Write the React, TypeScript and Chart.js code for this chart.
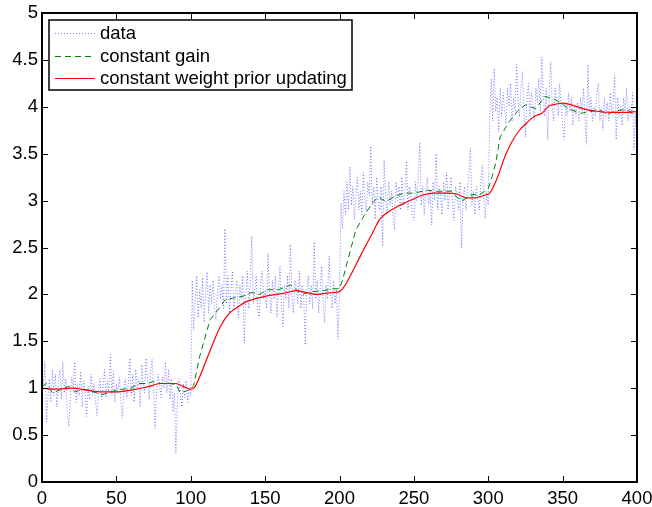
import React, { useEffect, useRef } from "react";
import { Chart, registerables } from "chart.js";

Chart.register(...registerables);

// ---------- data ----------
const seriesNames = ["data", "constant gain", "constant weight prior updating"];
const xTicks = [0, 50, 100, 150, 200, 250, 300, 350, 400];
const yTicks = [0, 0.5, 1, 1.5, 2, 2.5, 3, 3.5, 4, 4.5, 5];

// noisy observations, x = 1..100, 101..200, 201..300, 301..400
const dataSeg1 = [
  1.05, 1.28, 0.64, 0.9, 1.1, 0.85, 1.2, 0.92, 1.15, 0.8,
  1.05, 1.2, 0.88, 1.28, 0.95, 1.1, 0.75, 0.59, 0.9, 1.12,
  1.0, 1.28, 0.85, 1.05, 0.92, 1.18, 0.8, 1.08, 0.95, 0.7,
  1.02, 0.88, 1.15, 0.92, 1.05, 0.85, 0.71, 0.95, 1.1, 0.88,
  1.0, 1.2, 0.9, 1.08, 0.95, 1.36, 0.92, 1.18, 0.85, 1.05,
  0.95, 1.12, 0.88, 0.68, 0.98, 1.1, 0.9, 1.05, 1.32, 0.92,
  1.15, 0.85, 1.2, 1.0, 1.1, 0.8, 1.25, 1.05, 0.95, 1.32,
  1.1, 0.88, 1.18, 1.31, 1.0, 0.57, 0.95, 1.15, 1.05, 0.9,
  1.12, 1.0, 1.28, 0.95, 1.2, 0.88, 1.1, 0.75, 0.95, 0.3,
  0.85, 1.1, 0.95, 0.8, 1.05, 0.9, 1.08, 0.85, 1.0, 0.92,
];
const dataSeg2 = [
  2.15, 1.62, 1.95, 2.2, 1.75, 2.05, 1.85, 2.18, 1.7, 2.0,
  2.24, 1.8, 2.1, 1.9, 2.15, 1.85, 1.73, 2.05, 2.2, 1.95,
  2.1, 1.85, 2.7, 1.9, 2.2, 1.8, 2.05, 2.25, 1.85, 2.0,
  2.15, 1.75, 2.1, 1.95, 2.2, 1.48, 2.0, 2.25, 1.85, 2.1,
  2.62, 1.9, 2.05, 2.2, 1.85, 1.76, 2.1, 2.25, 1.95, 2.05,
  1.85, 2.44, 2.0, 1.8, 2.15, 1.95, 2.2, 1.76, 2.05, 2.3,
  1.9, 1.66, 2.1, 1.95, 2.2, 1.85, 2.53, 2.0, 1.8, 2.15,
  2.05, 1.9, 2.25, 1.85, 2.1, 1.95, 1.46, 2.05, 2.2, 1.9,
  2.1, 1.85, 2.56, 1.95, 2.15, 1.8, 2.05, 2.3, 1.9, 1.7,
  2.1, 1.95, 2.41, 2.0, 1.85, 2.15, 1.9, 2.05, 1.52, 2.0,
];
const dataSeg3 = [
  2.97, 2.7, 3.1, 2.85, 3.2, 2.9, 3.36, 2.95, 3.15, 2.8,
  3.05, 3.25, 2.9, 3.1, 2.85, 3.3, 3.0, 2.88, 3.2, 3.05,
  3.58, 2.95, 3.15, 2.8, 3.25, 3.0, 2.9, 3.15, 2.51, 3.43,
  3.05, 2.85, 3.2, 2.95, 3.1, 2.85, 2.69, 3.2, 3.0, 3.15,
  2.9, 3.25, 2.95, 3.1, 3.42, 2.9, 3.15, 3.05, 2.85, 2.79,
  3.2, 3.0, 3.3, 3.62, 2.95, 3.15, 2.85, 3.1, 3.25, 2.95,
  3.1, 2.74, 3.2, 3.0, 3.5, 2.9, 3.15, 3.05, 2.85, 3.2,
  3.0, 3.3, 2.9, 3.1, 3.25, 2.95, 2.79, 3.15, 3.05, 2.9,
  3.2, 2.49, 3.0, 3.15, 2.9, 3.1, 3.3, 3.56, 2.95, 3.1,
  2.85, 3.15, 3.0, 2.9, 3.2, 3.38, 3.0, 2.81, 3.1, 2.95,
];
const dataSeg4 = [
  3.9, 4.3, 3.85, 4.41, 3.95, 4.1, 3.73, 4.2, 3.9, 4.15,
  3.95, 3.82, 4.2, 4.0, 4.25, 3.85, 4.1, 3.95, 4.45, 4.05,
  3.9, 4.2, 4.38, 3.95, 3.68, 4.1, 4.25, 3.9, 4.15, 4.0,
  3.85, 4.2, 4.05, 4.3, 3.95, 4.53, 4.1, 3.9, 4.2, 3.65,
  4.15, 4.48, 4.0, 3.85, 4.2, 4.05, 3.9, 4.25, 4.0, 3.8,
  3.65, 4.05, 3.9, 4.15, 3.95, 4.1, 3.8, 4.0, 3.9, 4.05,
  3.85, 4.1, 3.95, 4.2, 3.9, 3.6, 4.45, 3.95, 4.1, 3.85,
  4.0, 3.9, 4.15, 4.25, 3.85, 4.0, 3.75, 4.1, 3.9, 4.05,
  3.85, 4.15, 3.95, 4.05, 4.34, 3.65, 4.1, 3.9, 4.0, 3.8,
  4.1, 3.95, 4.2, 3.85, 4.0, 3.9, 4.15, 3.54, 3.95, 3.55,
];

// constant gain estimate
const gainX = [
  0, 3, 7, 12, 18, 22, 28, 33, 40, 45, 50, 55, 60, 65, 70, 75, 80, 85, 90, 93, 97, 100,
  102, 106, 113, 118, 123, 128, 135, 141, 146, 152, 159, 167, 175, 182, 189, 196, 200,
  202, 206, 211, 217, 222, 226, 231, 237, 243, 250, 259, 266, 275, 282, 288, 295, 300,
  302, 305, 308, 314, 320, 325, 332, 338, 343, 348, 354, 362, 369, 374, 380, 386, 393, 400,
];
const gainY = [
  1.02, 1.05, 0.95, 0.98, 1.02, 0.96, 0.99, 0.97, 0.93, 0.95, 0.98, 0.99, 1.0, 1.05, 1.05, 1.07, 1.05, 1.05, 1.04, 0.95, 0.97, 0.99,
  1.03, 1.34, 1.73, 1.83, 1.94, 1.96, 1.98, 2.02, 2.0, 2.05, 2.05, 2.1, 2.0, 2.03, 2.04, 2.06, 2.06,
  2.15, 2.39, 2.69, 2.85, 2.97, 3.04, 2.99, 3.04, 3.08, 3.08, 3.11, 3.1, 3.1, 2.99, 3.06, 3.07, 3.13,
  3.22, 3.4, 3.68, 3.84, 3.96, 4.02, 3.98, 4.11, 4.09, 4.05, 3.98, 3.93, 3.95, 3.97, 3.92, 3.96, 3.97, 3.9,
];

// constant weight prior updating estimate
const weightX = [
  0, 10, 20, 30, 40, 50, 60, 70, 80, 90, 95, 100,
  103, 108, 115, 120, 126, 132, 137, 145, 153, 162, 171, 178, 184, 190, 196, 200,
  203, 208, 215, 222, 227, 232, 238, 246, 256, 264, 272, 279, 285, 290, 298, 301,
  305, 312, 316, 321, 326, 331, 336, 341, 346, 350, 358, 366, 374, 384, 392, 400,
];
const weightY = [
  1.0, 0.99, 1.0, 0.98, 0.96, 0.96, 0.98, 1.01, 1.05, 1.05, 1.02, 0.99,
  1.02, 1.2, 1.48, 1.66, 1.8, 1.87, 1.92, 1.96, 1.99, 2.01, 2.04, 2.02, 2.0, 2.01, 2.02, 2.03,
  2.08, 2.22, 2.44, 2.65, 2.8, 2.87, 2.93, 2.99, 3.06, 3.08, 3.08, 3.07, 3.03, 3.03, 3.06, 3.08,
  3.2, 3.5, 3.63, 3.75, 3.83, 3.9, 3.93, 4.01, 4.03, 4.04, 4.01, 3.97, 3.95, 3.94, 3.94, 3.95,
];

// ---------- styles ----------
const FONT = "'Liberation Sans', Arial, Helvetica, sans-serif";
const FONT_SIZE = 18.5;
const BLUE = "rgba(0,0,255,0.5)";
const GREEN = "rgb(0,128,0)";
const RED = "rgb(255,0,0)";
const DOT = [1, 2];
const DASH = [6, 4];

const matlabPlugin = {
  id: "matlabBox",
  afterDatasetsDraw(chart: any) {
    const { ctx, chartArea, scales } = chart;
    const { left, right, top, bottom } = chartArea;
    const x = scales.x;
    const y = scales.y;
    ctx.save();
    ctx.strokeStyle = "#000";
    // ticks (inward, all four sides)
    ctx.lineWidth = 1;
    const L = 6;
    ctx.beginPath();
    for (const v of xTicks) {
      const px = Math.round(x.getPixelForValue(v)) + 0.5;
      ctx.moveTo(px, bottom);
      ctx.lineTo(px, bottom - L);
      ctx.moveTo(px, top);
      ctx.lineTo(px, top + L);
    }
    for (const v of yTicks) {
      const py = Math.round(y.getPixelForValue(v)) + 0.5;
      ctx.moveTo(left, py);
      ctx.lineTo(left + L, py);
      ctx.moveTo(right, py);
      ctx.lineTo(right - L, py);
    }
    ctx.stroke();
    // box
    ctx.lineWidth = 2;
    ctx.strokeRect(Math.round(left), Math.round(top), Math.round(right - left), Math.round(bottom - top));

    // legend
    const lx = 49, ly = 20, lw = 303, lh = 70;
    ctx.fillStyle = "#fff";
    ctx.fillRect(lx, ly, lw, lh);
    ctx.lineWidth = 1.5;
    ctx.strokeRect(lx, ly, lw, lh);
    const rows = [32.5, 55.5, 78];
    const colors = [BLUE, GREEN, RED];
    const dashes = [DOT, DASH, []];
    ctx.font = `${FONT_SIZE}px ${FONT}`;
    ctx.textBaseline = "middle";
    ctx.textAlign = "left";
    for (let i = 0; i < 3; i++) {
      ctx.save();
      ctx.strokeStyle = colors[i];
      ctx.lineWidth = 1;
      ctx.setLineDash(dashes[i]);
      ctx.beginPath();
      ctx.moveTo(55, Math.round(rows[i]) + 0.5);
      ctx.lineTo(95, Math.round(rows[i]) + 0.5);
      ctx.stroke();
      ctx.restore();
      ctx.fillStyle = "#000";
      ctx.fillText(seriesNames[i], 100, rows[i] + 1);
    }
    ctx.restore();
  },
};

export default function App() {
  const ref = useRef<HTMLCanvasElement | null>(null);

  useEffect(() => {
    if (!ref.current) return;
    const observations = [...dataSeg1, ...dataSeg2, ...dataSeg3, ...dataSeg4].map((v, i) => ({ x: i + 1, y: v }));
    const gain = gainX.map((x, i) => ({ x, y: gainY[i] }));
    const weight = weightX.map((x, i) => ({ x, y: weightY[i] }));

    const chart = new Chart(ref.current, {
      type: "line",
      data: {
        datasets: [
          {
            label: seriesNames[0],
            data: observations,
            borderColor: BLUE,
            borderWidth: 1,
            borderDash: DOT,
            pointRadius: 0,
            tension: 0,
            order: 3,
          },
          {
            label: seriesNames[1],
            data: gain,
            borderColor: GREEN,
            borderWidth: 1,
            borderDash: DASH,
            pointRadius: 0,
            tension: 0,
            order: 2,
          },
          {
            label: seriesNames[2],
            data: weight,
            borderColor: RED,
            borderWidth: 1.2,
            pointRadius: 0,
            cubicInterpolationMode: "monotone",
            order: 1,
          },
        ],
      },
      options: {
        animation: false,
        responsive: false,
        devicePixelRatio: 1,
        layout: { padding: { top: 13, right: 15, left: 0, bottom: 0 } },
        plugins: { legend: { display: false }, tooltip: { enabled: false } },
        scales: {
          x: {
            type: "linear",
            min: 0,
            max: 400,
            grid: { display: false, drawTicks: false },
            border: { display: false },
            ticks: {
              stepSize: 50,
              padding: 6,
              color: "#000",
              font: { family: FONT, size: FONT_SIZE },
              maxRotation: 0,
              callback: (v: any) => `${+v}`,
            },
            afterFit: (s: any) => {
              s.height = 25;
              s.paddingLeft = 0;
              s.paddingRight = 0;
            },
          },
          y: {
            type: "linear",
            min: 0,
            max: 5,
            grid: { display: false, drawTicks: false },
            border: { display: false },
            ticks: {
              stepSize: 0.5,
              padding: 4,
              color: "#000",
              font: { family: FONT, size: FONT_SIZE },
              callback: (v: any) => `${+v}`,
            },
            afterFit: (s: any) => {
              s.width = 42;
              s.paddingTop = 0;
              s.paddingBottom = 0;
            },
          },
        },
      },
      plugins: [matlabPlugin],
    });
    return () => chart.destroy();
  }, []);

  return (
    <div style={{ position: "absolute", left: 0, top: 0, width: 652, height: 507, background: "#fff" }}>
      <canvas ref={ref} width={652} height={507} style={{ display: "block" }} />
    </div>
  );
}
